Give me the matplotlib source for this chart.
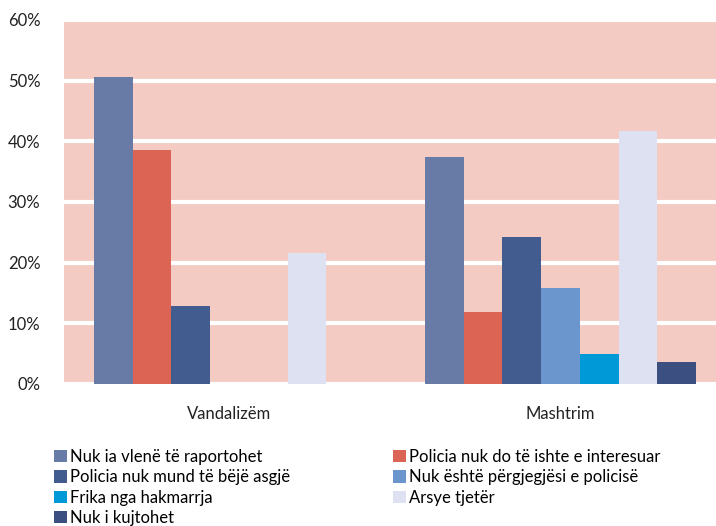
import matplotlib
matplotlib.use("Agg")
import matplotlib.pyplot as plt
import numpy as np
from matplotlib.patches import Patch

plt.rcParams["font.family"] = ["Lato", "DejaVu Sans"]

categories = ["Vandalizëm", "Mashtrim"]
series = [
    "Nuk ia vlenë të raportohet",
    "Policia nuk do të ishte e interesuar",
    "Policia nuk mund të bëjë asgjë",
    "Nuk është përgjegjësi e policisë",
    "Frika nga hakmarrja",
    "Arsye tjetër",
    "Nuk i kujtohet",
]
values = [
    [50.6, 37.5],
    [38.5, 11.8],
    [12.9, 24.3],
    [0.0, 15.8],
    [0.0, 5.0],
    [21.6, 41.7],
    [0.0, 3.6],
]
colors = ["#687BA6", "#DC6454", "#425C8F", "#6A95CD", "#0099D8", "#DEE1F2", "#3B5080"]

fig = plt.figure(figsize=(7.16, 5.26), dpi=100)
ax = fig.add_axes([64 / 716, 1 - 384 / 526, 1 - 64 / 716, 364 / 526])
ax.set_facecolor("#F4CBC2")

x = np.arange(len(categories))
n = len(series)
w = 0.117
for i, (name, vals, c) in enumerate(zip(series, values, colors)):
    ax.bar(x + (i - (n - 1) / 2) * w, vals, width=w, color=c, zorder=3, label=name)

ax.set_ylim(0, 60)
ax.set_xlim(-0.5, 1.47)
ax.set_yticks(range(0, 61, 10))
ax.set_yticklabels([f"{v}%" for v in range(0, 61, 10)], fontsize=12, color="#222222")
ax.set_xticks(x)
ax.set_xticklabels(categories, fontsize=12, color="#222222")
ax.tick_params(length=0, axis="y", pad=17)
ax.tick_params(length=0, axis="x", pad=16)
ax.yaxis.grid(True, color="white", linewidth=3, zorder=1)
for s in ax.spines.values():
    s.set_visible(False)

handles = [Patch(facecolor=c, label=s) for s, c in zip(series, colors)]
order = [0, 2, 4, 6, 1, 3, 5]
fig.legend([handles[i] for i in order], [series[i] for i in order],
           loc="upper left", bbox_to_anchor=(54 / 716, 1 - 449 / 526), ncol=2,
           frameon=False, fontsize=12, handlelength=0.75, handleheight=0.75,
           handletextpad=0.2, labelspacing=0.26, columnspacing=6.2,
           borderaxespad=0, borderpad=0)

fig.savefig("out.png", dpi=100)
